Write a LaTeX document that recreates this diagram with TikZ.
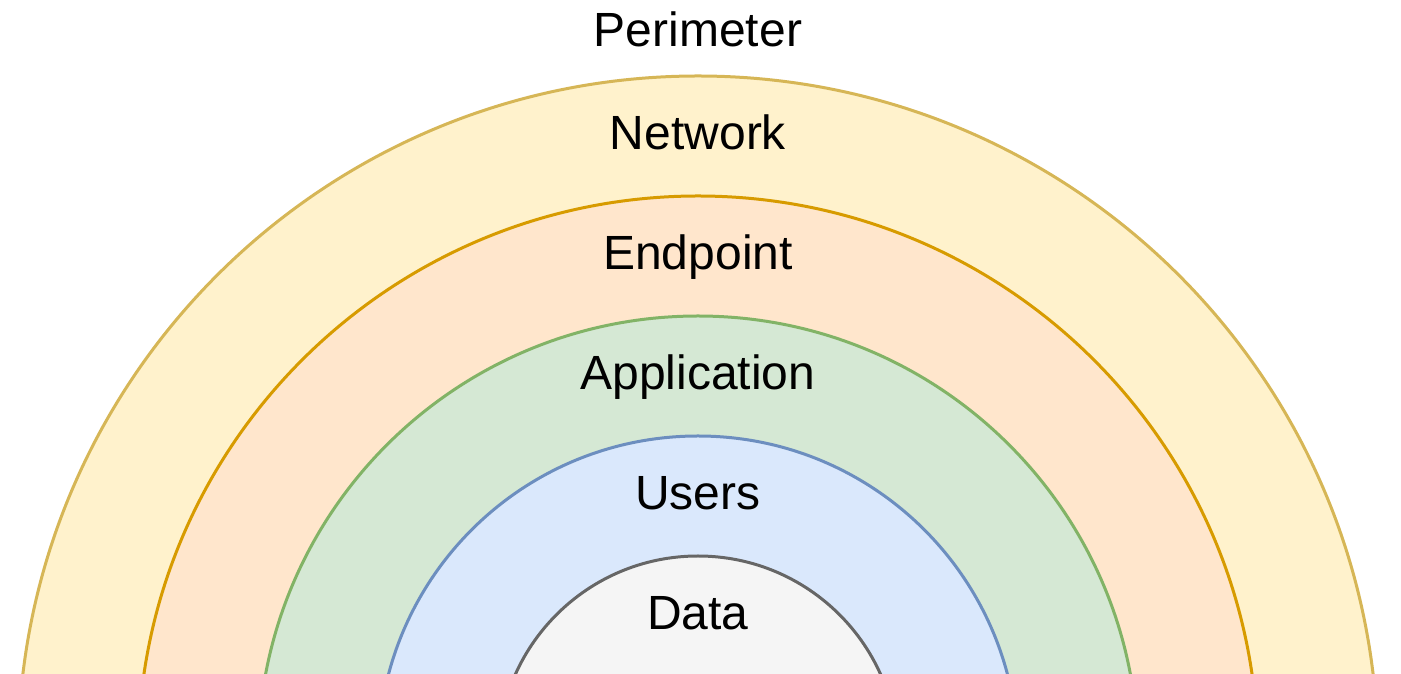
\documentclass[tikz,border=0pt]{standalone}
\usepackage{fontspec}
\setmainfont{Liberation Sans}
\usepackage{tikz}

\definecolor{perimfill}{HTML}{FFF2CC}
\definecolor{perimline}{HTML}{D6B656}
\definecolor{netfill}{HTML}{FFE6CC}
\definecolor{netline}{HTML}{D79B00}
\definecolor{appfill}{HTML}{D5E8D4}
\definecolor{appline}{HTML}{82B366}
\definecolor{userfill}{HTML}{DAE8FC}
\definecolor{userline}{HTML}{6C8EBF}
\definecolor{datafill}{HTML}{F5F5F5}
\definecolor{dataline}{HTML}{666666}

\tikzset{
    ring/.style={circle, draw, line width=3pt, inner sep=0pt},
    layer/.style={anchor=base, font=\fontsize{48}{58}\selectfont}
}

\begin{document}
\begin{tikzpicture}[x=1pt,y=1pt]

    \useasboundingbox (-698,82) rectangle (703,756);
    \clip (-698,82) rectangle (703,756);

    % rings (outer to inner)
    \node[ring, draw=perimline, fill=perimfill, minimum size=1360pt] (network) at (0,0) {};
    \node[ring, draw=netline, fill=netfill, minimum size=1120pt] (endpoint) at (0,0) {};
    \node[ring, draw=appline, fill=appfill, minimum size=880pt] (application) at (0,0) {};
    \node[ring, draw=userline, fill=userfill, minimum size=640pt] (users) at (0,0) {};
    \node[ring, draw=dataline, fill=datafill, minimum size=400pt] (data) at (0,0) {};

    % labels
    \node[layer] (perimlabel) at (0,709) {Perimeter};
    \node[layer] (netlabel) at (0,606) {Network};
    \node[layer] (endlabel) at (0,486) {Endpoint};
    \node[layer] (applabel) at (0,366) {Application};
    \node[layer] (userlabel) at (0,246) {Users};
    \node[layer] (datalabel) at (0,126) {Data};

\end{tikzpicture}
\end{document}
